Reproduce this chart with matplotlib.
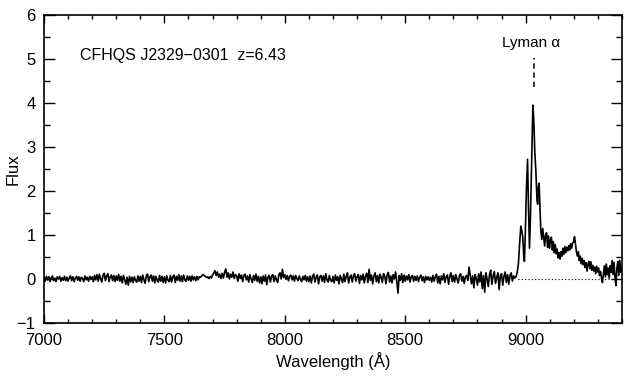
import numpy as np
import matplotlib
matplotlib.use("Agg")
import matplotlib.pyplot as plt
from matplotlib.ticker import MultipleLocator

plt.rcParams['font.family'] = ['Liberation Sans', 'DejaVu Sans']

# Noise-dominated part of the spectrum, 5 A steps from 7000 A (hand-read)
noise_start = 7000
noise_step = 5
noise_flux = [
    0.04,-0.05,0.06,-0.02,0.05,-0.06,0.03,0.07,-0.04,0.02,-0.06,0.05,0.00,0.06,-0.05,0.03,-0.03,0.06,-0.04,0.04,
    -0.05,0.03,0.07,-0.04,0.05,-0.06,0.02,0.06,-0.03,0.05,-0.05,0.04,0.01,-0.06,0.07,-0.02,0.04,-0.05,0.06,-0.01,
    0.05,-0.06,0.08,-0.02,0.10,-0.05,0.11,0.00,-0.07,0.09,0.13,-0.04,0.07,0.12,-0.06,0.05,0.09,-0.04,0.08,-0.06,
    0.07,-0.03,0.10,-0.05,0.06,-0.09,0.08,-0.02,-0.12,0.04,-0.14,0.06,-0.07,0.04,-0.08,0.05,-0.03,-0.07,0.07,-0.05,
    0.06,-0.08,0.09,-0.02,-0.10,0.08,0.11,-0.06,0.05,0.09,-0.05,0.07,-0.09,0.06,-0.03,-0.07,0.08,-0.05,0.06,-0.08,
    0.05,-0.09,0.07,-0.03,-0.06,0.08,-0.07,0.05,0.09,-0.08,0.06,-0.03,0.10,-0.05,0.07,-0.06,0.09,-0.02,-0.05,0.07,
    -0.03,0.06,-0.05,0.07,-0.02,0.05,-0.04,0.06,-0.02,0.05,0.04,0.07,0.10,0.08,0.06,0.03,0.05,0.01,0.06,0.02,
    0.09,0.14,0.19,0.08,0.16,0.04,0.11,0.01,0.13,0.02,0.15,0.23,0.04,0.14,0.00,0.11,0.04,0.16,0.01,0.10,
    0.07,-0.05,0.12,0.01,0.09,-0.06,0.08,0.11,-0.02,0.07,-0.07,0.10,0.00,-0.08,0.08,-0.03,0.11,-0.05,0.06,-0.09,
    0.05,-0.11,0.07,-0.05,0.09,-0.13,0.04,0.08,-0.07,0.06,0.10,-0.06,0.07,-0.02,-0.08,0.09,0.14,0.00,0.22,0.03,
    0.10,-0.01,0.08,-0.04,0.06,0.09,-0.02,0.07,-0.05,0.08,0.01,-0.04,0.07,-0.01,-0.06,0.06,-0.02,0.08,-0.05,0.05,
    -0.06,0.07,-0.09,0.06,0.11,-0.07,0.04,0.09,-0.11,0.05,0.08,-0.05,0.07,-0.08,0.12,-0.02,-0.07,0.08,-0.03,-0.06,
    0.06,-0.09,0.09,-0.03,0.05,-0.11,0.08,0.00,-0.08,0.11,-0.06,0.06,0.14,-0.09,0.04,0.09,-0.07,0.07,0.12,-0.05,
    0.05,0.10,-0.10,0.08,-0.02,0.11,-0.09,0.06,0.13,-0.08,0.22,-0.03,0.09,-0.11,0.07,0.14,-0.06,0.08,-0.09,0.11,
    0.04,-0.08,0.12,0.06,-0.11,0.09,0.15,-0.07,0.07,-0.09,0.10,0.00,0.16,-0.06,-0.32,0.08,-0.03,0.12,-0.08,0.09,
    -0.05,0.07,-0.02,0.10,-0.07,0.05,0.08,-0.05,0.06,-0.03,0.07,-0.06,0.04,0.09,-0.04,0.05,-0.08,0.06,-0.02,0.05,
    -0.03,0.04,-0.07,0.08,-0.05,0.05,0.11,-0.09,0.06,-0.11,0.07,-0.02,0.12,-0.08,0.05,0.09,-0.12,0.06,0.14,-0.06,
    0.08,-0.07,0.10,0.00,-0.09,0.07,0.12,-0.05,0.06,-0.10,0.05,0.08,-0.03,0.27,0.08,-0.11,0.07,-0.20,0.10,0.01,
    -0.14,0.12,-0.07,0.16,-0.22,0.08,-0.30,0.14,0.00,-0.17,0.10,0.20,-0.12,0.07,0.17,-0.10,0.04,0.14,-0.24,0.08,
    0.12,-0.14,0.06,0.16,-0.08,0.10,-0.12,0.08,0.14,-0.05,0.07,0.02,
]

# Emission part of the spectrum (hand-read)
line_wave = [8960, 8965, 8970, 8975, 8980, 8984, 8988, 8992, 8995, 8999, 9003, 9008, 9012, 9016, 9020,
             9025, 9030, 9034, 9038, 9043, 9047, 9050, 9053, 9056, 9059, 9063, 9067, 9071, 9075, 9079,
             9083, 9087, 9091, 9095, 9099, 9103, 9107, 9111, 9115, 9119, 9123, 9127, 9131, 9135, 9139,
             9143, 9147, 9151, 9155, 9159, 9163, 9167, 9171, 9175, 9179, 9183, 9187, 9191, 9195, 9199,
             9203, 9207, 9211, 9215, 9219, 9223, 9227, 9231, 9235, 9239, 9243, 9247, 9251, 9255, 9259,
             9263, 9267, 9271, 9275, 9279, 9283, 9287, 9291, 9295, 9299, 9303, 9307, 9311, 9315, 9319,
             9323, 9327, 9331, 9335, 9339, 9343, 9347, 9351, 9355, 9359, 9363, 9367, 9371, 9375, 9379,
             9383, 9387, 9391, 9395, 9400]
line_flux = [0.05, 0.15, 0.35, 0.80, 1.20, 1.10, 0.95, 0.55, 0.40, 1.10, 2.00, 2.72, 1.60, 0.70, 1.40,
             2.70, 3.95, 3.60, 2.90, 2.40, 1.80, 1.70, 2.10, 2.18, 1.70, 1.10, 0.90, 1.15, 0.95, 0.75,
             1.00, 1.05, 0.72, 0.98, 0.70, 0.88, 0.95, 0.66, 0.85, 0.60, 0.78, 0.57, 0.68, 0.48, 0.60,
             0.45, 0.62, 0.52, 0.70, 0.56, 0.74, 0.60, 0.72, 0.64, 0.76, 0.66, 0.80, 0.70, 0.82, 0.84,
             0.96, 0.78, 0.62, 0.52, 0.62, 0.42, 0.52, 0.35, 0.47, 0.32, 0.42, 0.26, 0.37, 0.18, 0.34,
             0.40, 0.23, 0.39, 0.20, 0.31, 0.18, 0.27, 0.12, 0.29, 0.16, 0.25, 0.08, 0.17, 0.02, -0.08,
             0.12, 0.30, 0.05, 0.34, 0.10, 0.25, 0.02, 0.30, 0.15, 0.42, 0.10, 0.38, 0.05, -0.15, 0.25,
             0.40, 0.08, 0.42, 0.15, 0.30]

x_ticks = [7000, 7500, 8000, 8500, 9000]
y_ticks = [-1, 0, 1, 2, 3, 4, 5, 6]
title_text = "CFHQS J2329\u22120301  z=6.43"
line_label = "Lyman \u03b1"
lya_wave = 9035
zero_start = 8970

noise_wave = noise_start + noise_step * np.arange(len(noise_flux))
wave = np.concatenate([noise_wave, np.array(line_wave)])
flux = np.concatenate([np.array(noise_flux), np.array(line_flux)])

fig = plt.figure(figsize=(6.34, 3.79), dpi=100)
ax = fig.add_axes([0.0694, 0.1478, 0.9116, 0.8126])
ax.plot(wave, flux, color='black', lw=1.2)
ax.plot([zero_start, 9400], [0, 0], color='black', lw=0.8, ls=(0, (1, 2)))
ax.plot([lya_wave, lya_wave], [4.36, 5.02], color='black', lw=1.1, ls=(0, (3.5, 2.5)))

ax.set_xlim(7000, 9400)
ax.set_ylim(-1, 6)
ax.set_xticks(x_ticks)
ax.set_yticks(y_ticks)
ax.xaxis.set_minor_locator(MultipleLocator(100))
ax.yaxis.set_minor_locator(MultipleLocator(0.5))
ax.tick_params(axis='both', which='both', direction='in', top=True, right=True,
               labelsize=12, width=1.0)
ax.tick_params(axis='x', which='major', length=6, pad=7)
ax.tick_params(axis='x', which='minor', length=3)
ax.tick_params(axis='y', which='major', length=8, pad=6)
ax.tick_params(axis='y', which='minor', length=4)
for s in ax.spines.values():
    s.set_linewidth(1.2)

ax.set_xlabel("Wavelength (\u00c5)", fontsize=12, labelpad=3)
ax.set_ylabel("Flux", fontsize=12)
ax.yaxis.set_label_coords(-0.040, 0.5)

ax.text(7150, 5.09, title_text, fontsize=11.5, ha='left', va='center')
ax.text(9022, 5.37, line_label, fontsize=11, ha='center', va='center')

fig.savefig("out.png", dpi=100)
